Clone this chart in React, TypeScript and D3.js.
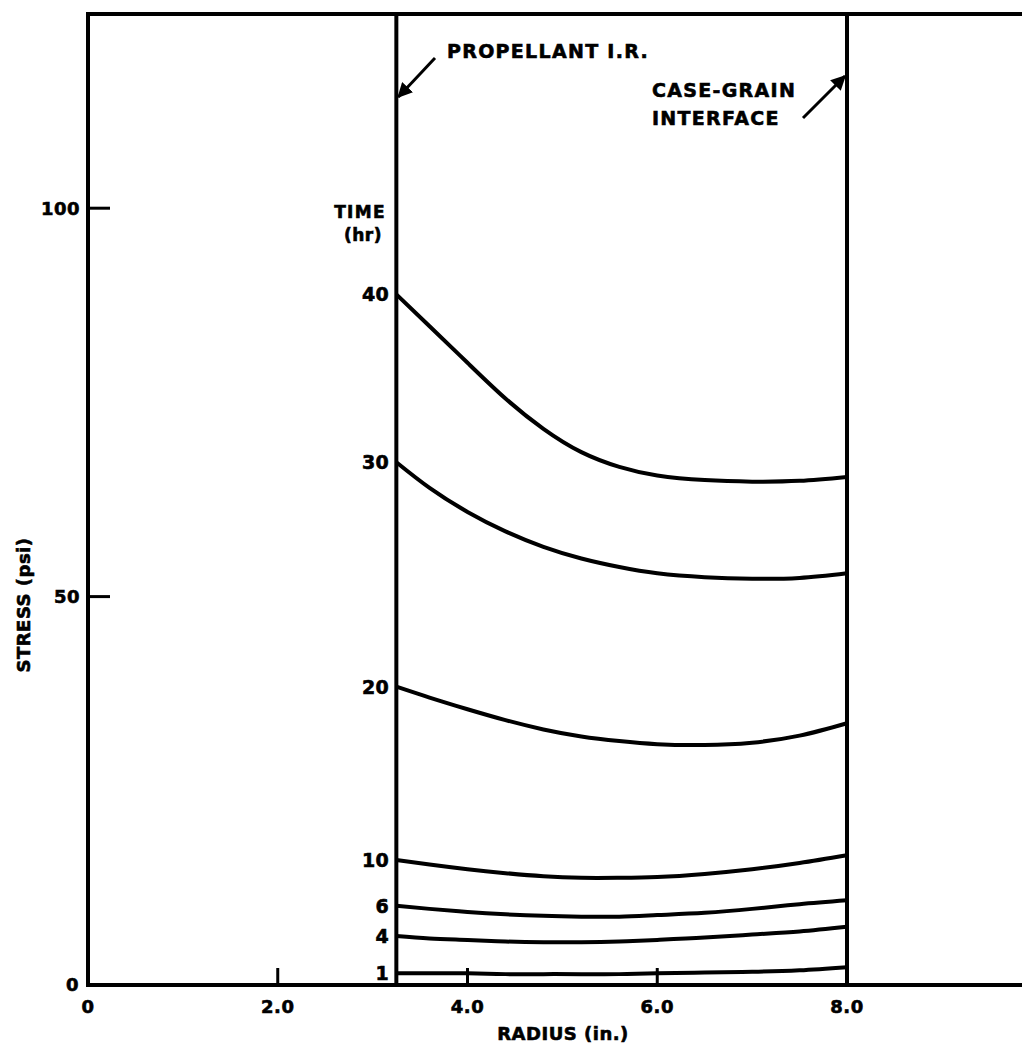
import React from "react";
import * as d3 from "d3";

const radii = [3.25, 3.6, 4.0, 4.4, 4.8, 5.2, 5.6, 6.0, 6.5, 7.0, 7.5, 8.0];
const timeLabels = ["40", "30", "20", "10", "6", "4", "1"];
const stress40 = [88.9, 84.8, 80.1, 75.5, 71.6, 68.6, 66.7, 65.6, 65.0, 64.8, 64.9, 65.4];
const stress30 = [67.3, 64.0, 60.9, 58.4, 56.4, 54.9, 53.8, 53.0, 52.5, 52.3, 52.4, 53.0];
const stress20 = [38.4, 37.0, 35.5, 34.1, 32.9, 32.0, 31.4, 31.0, 30.9, 31.2, 32.1, 33.7];
const stress10 = [16.1, 15.5, 14.9, 14.4, 14.0, 13.8, 13.8, 13.9, 14.3, 14.9, 15.7, 16.7];
const stress6 = [10.2, 9.8, 9.4, 9.1, 8.9, 8.8, 8.8, 9.0, 9.3, 9.8, 10.4, 10.9];
const stress4 = [6.3, 6.0, 5.8, 5.6, 5.5, 5.5, 5.6, 5.8, 6.1, 6.5, 6.9, 7.5];
const stress1 = [1.5, 1.5, 1.5, 1.4, 1.4, 1.4, 1.4, 1.5, 1.6, 1.7, 1.9, 2.3];
const seriesValues = [stress40, stress30, stress20, stress10, stress6, stress4, stress1];

const xTicks = [0, 2, 4, 6, 8];
const xTickLabels = ["0", "2.0", "4.0", "6.0", "8.0"];
const yTicks = [0, 50, 100];
const yTickLabels = ["0", "50", "100"];
const innerRadius = 3.25;
const caseRadius = 8.0;

const W = 1022;
const H = 1047;

export default function App() {
  const x = d3.scaleLinear().domain([0, 10]).range([88, 1036.75]);
  const y = d3.scaleLinear().domain([0, 125]).range([985, 14]);
  const line = d3
    .line<number>()
    .x((_, i) => x(radii[i]))
    .y((d) => y(d))
    .curve(d3.curveNatural);

  const font = "'DejaVu Sans', Verdana, sans-serif";
  const textStyle = {
    fontFamily: font,
    fontWeight: 700 as const,
    letterSpacing: "0.5px",
    stroke: "#000",
    strokeWidth: 0.6,
  };
  const annStyle = { ...textStyle, letterSpacing: "1.3px" };
  const x0 = x(0);
  const yTop = y(125);
  const yBot = y(0);

  return (
    <svg
      width={W}
      height={H}
      style={{ position: "absolute", left: 0, top: 0, background: "#fff" }}
    >
      <defs>
        <marker
          id="arr"
          viewBox="0 0 10 10"
          refX="9"
          refY="5"
          markerWidth="5"
          markerHeight="5"
          orient="auto"
        >
          <path d="M0,0 L10,5 L0,10 z" fill="#000" />
        </marker>
      </defs>
      <rect x={0} y={0} width={W} height={H} fill="#fff" />

      {/* frame */}
      <line x1={x0} x2={W} y1={yTop} y2={yTop} stroke="#000" strokeWidth={4} />
      <line x1={x0} x2={W} y1={yBot} y2={yBot} stroke="#000" strokeWidth={4} />
      <line x1={x0} x2={x0} y1={yTop - 2} y2={yBot + 2} stroke="#000" strokeWidth={4} />
      <line
        x1={x(innerRadius)}
        x2={x(innerRadius)}
        y1={yTop}
        y2={yBot}
        stroke="#000"
        strokeWidth={4}
      />
      <line
        x1={x(caseRadius)}
        x2={x(caseRadius)}
        y1={yTop}
        y2={yBot}
        stroke="#000"
        strokeWidth={4}
      />

      {/* y ticks */}
      {yTicks.map((t, i) => (
        <g key={"yt" + t}>
          {t !== 0 && (
            <line x1={x0} x2={x0 + 22} y1={y(t)} y2={y(t)} stroke="#000" strokeWidth={3} />
          )}
          <text
            x={t === 0 ? x0 - 9 : x0 - 8}
            y={y(t)}
            dy="0.36em"
            textAnchor="end"
            fontSize={18}
            style={textStyle}
          >
            {yTickLabels[i]}
          </text>
        </g>
      ))}

      {/* x ticks */}
      {xTicks.map((t, i) => (
        <g key={"xt" + t}>
          {t !== 0 && t !== 8 && (
            <line x1={x(t)} x2={x(t)} y1={yBot} y2={yBot - 17} stroke="#000" strokeWidth={3} />
          )}
          <text
            x={x(t)}
            y={yBot + 22}
            dy="0.36em"
            textAnchor="middle"
            fontSize={18}
            style={textStyle}
          >
            {xTickLabels[i]}
          </text>
        </g>
      ))}

      {/* axis titles */}
      <text
        x={563}
        y={1034}
        dy="0.36em"
        textAnchor="middle"
        fontSize={18}
        style={textStyle}
      >
        RADIUS (in.)
      </text>
      <text
        transform={`translate(24,${605}) rotate(-90)`}
        dy="0.36em"
        textAnchor="middle"
        fontSize={18}
        style={textStyle}
      >
        STRESS (psi)
      </text>

      {/* curves */}
      {seriesValues.map((vals, i) => (
        <g key={"s" + i}>
          <path d={line(vals) || ""} fill="none" stroke="#000" strokeWidth={4} />
          <text
            x={x(innerRadius) - 7}
            y={y(vals[0])}
            dy="0.36em"
            textAnchor="end"
            fontSize={19}
            style={textStyle}
          >
            {timeLabels[i]}
          </text>
        </g>
      ))}

      {/* TIME header */}
      <text x={360} y={212} dy="0.36em" textAnchor="middle" fontSize={17} style={annStyle}>
        TIME
      </text>
      <text x={363} y={235} dy="0.36em" textAnchor="middle" fontSize={17} style={textStyle}>
        (hr)
      </text>

      {/* annotations */}
      <text x={447} y={51} dy="0.36em" fontSize={19} style={annStyle}>
        PROPELLANT I.R.
      </text>
      <line
        x1={435}
        y1={58}
        x2={x(innerRadius) + 2}
        y2={97}
        stroke="#000"
        strokeWidth={3}
        markerEnd="url(#arr)"
      />
      <text x={652} y={90} dy="0.36em" fontSize={19} style={annStyle}>
        CASE-GRAIN
      </text>
      <text x={652} y={118} dy="0.36em" fontSize={19} style={annStyle}>
        INTERFACE
      </text>
      <line
        x1={803}
        y1={118}
        x2={x(caseRadius) - 2}
        y2={76}
        stroke="#000"
        strokeWidth={3}
        markerEnd="url(#arr)"
      />
    </svg>
  );
}
